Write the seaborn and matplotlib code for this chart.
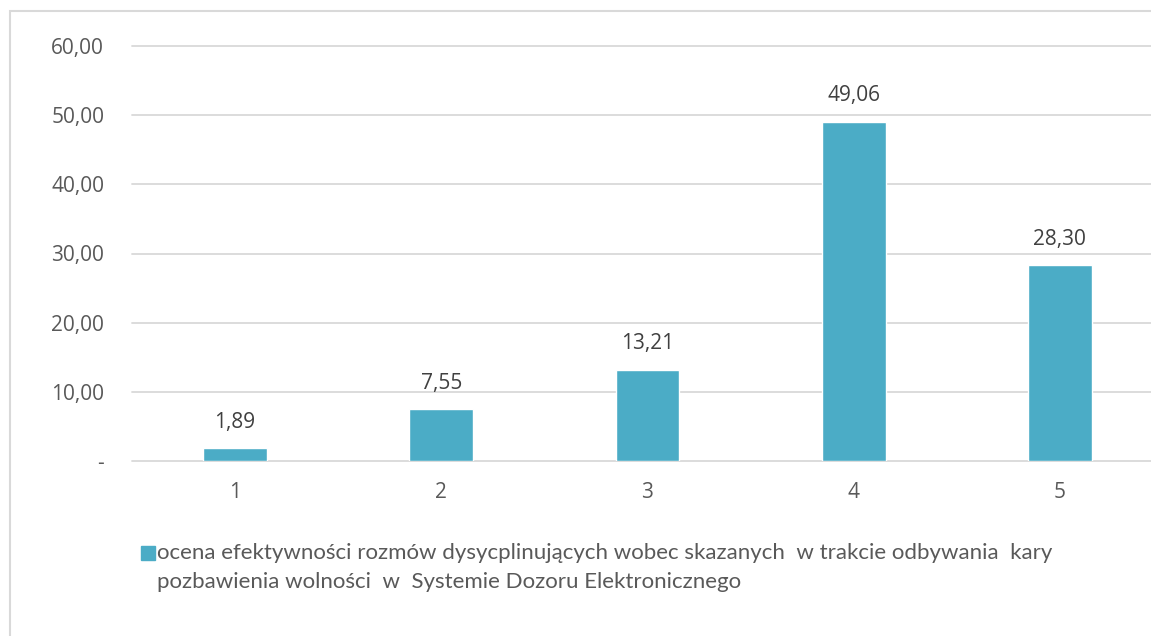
import numpy as np
import pandas as pd
import seaborn as sns
import matplotlib
matplotlib.use('Agg')
import matplotlib.pyplot as plt
from matplotlib.patches import Rectangle

## Data
categories = ['1', '2', '3', '4', '5']
values = [1.89, 7.55, 13.21, 49.06, 28.30]
y_ticks = [0, 10, 20, 30, 40, 50, 60]
legend_lines = ["ocena efektywności rozmów dysycplinujących wobec skazanych  w trakcie odbywania  kary",
                "pozbawienia wolności  w  Systemie Dozoru Elektronicznego"]

bar_color = '#4BACC6'
text_color = '#595959'
grid_color = '#D9D9D9'

sns.set_theme(style='white')
plt.rcParams['font.family'] = ['Open Sans', 'DejaVu Sans']

df = pd.DataFrame({'cat': categories, 'val': values})

W, H = 1151, 636
fig = plt.figure(figsize=(W / 100, H / 100), dpi=100)
# plot area runs a little past the right edge, as in the cropped reference
ax = fig.add_axes([132 / W, 1 - 461 / H, (1163 - 132) / W, (461 - 46) / H])

sns.barplot(data=df, x='cat', y='val', color=bar_color, width=0.31,
            saturation=1, ax=ax, zorder=3)

ax.set_ylim(0, 60)
ax.set_xlim(-0.5, 4.5)
ax.set_yticks(y_ticks)
ax.set_yticklabels(['-' if t == 0 else f'{t:.2f}'.replace('.', ',') for t in y_ticks])
ax.set_xlabel('')
ax.set_ylabel('')

for t in y_ticks:
    ax.axhline(t, color=grid_color, lw=1.3, zorder=1, clip_on=False)

for s in ax.spines.values():
    s.set_visible(False)

ax.tick_params(axis='y', length=0, pad=20, labelsize=15, labelcolor=text_color)
ax.tick_params(axis='x', length=0, pad=15, labelsize=15, labelcolor=text_color)

for i, v in enumerate(values):
    ax.annotate(f'{v:.2f}'.replace('.', ','), (i, v), xytext=(0, 18.5),
                textcoords='offset points', ha='center', va='center',
                fontsize=15, color='#404040')

# legend (square + two text lines)
fig.patches.append(Rectangle((141 / W, 1 - 560 / H), 14 / W, 14 / H,
                             transform=fig.transFigure, color=bar_color))
for line, yc in zip(legend_lines, [553, 582]):
    fig.text(157 / W, 1 - yc / H, line, ha='left', va='center',
             fontsize=16, color=text_color, family=['Lato', 'DejaVu Sans'])

# chart frame
fig.patches.append(Rectangle((10 / W, -0.01), 1.1, 1 - 11 / H + 0.01,
                             transform=fig.transFigure, fill=False,
                             edgecolor=grid_color, lw=1.5))

fig.savefig('out.png', dpi=100, facecolor='white')
